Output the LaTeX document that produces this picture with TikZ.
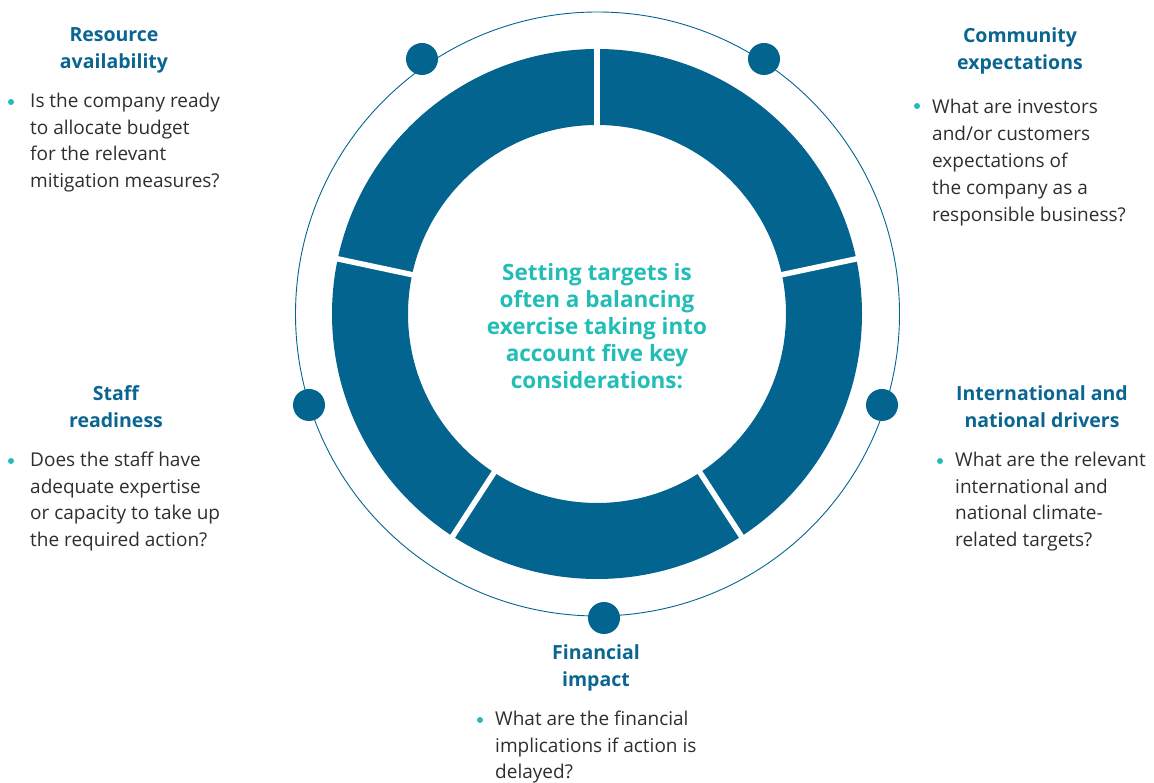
\documentclass[tikz,border=0pt]{standalone}
\usepackage{fontspec}
\setmainfont{Open Sans}
\definecolor{ringblue}{HTML}{03658F}
\definecolor{headblue}{HTML}{0A6690}
\definecolor{accentteal}{HTML}{22BDB6}
\definecolor{bodygrey}{HTML}{2E2E2E}
\tikzset{
	heading/.style={
		font=\fontsize{19.5}{27}\selectfont\bfseries,
		text=headblue, align=center, inner sep=0pt
	},
	question/.style={
		font=\fontsize{19}{26.5}\selectfont,
		text=bodygrey, align=left, anchor=north west, inner sep=0pt
	},
	bullet/.style={
		circle, fill=accentteal, minimum size=6pt, inner sep=0pt
	},
	ringdot/.style={
		circle, fill=ringblue, minimum size=32pt, inner sep=0pt
	},
	centretext/.style={
		font=\fontsize{22.5}{27}\selectfont\bfseries,
		text=accentteal, align=center, inner sep=0pt
	}
}

\begin{document}
\begin{tikzpicture}[x=1pt,y=1pt]
	\useasboundingbox (0,0) rectangle (1154,782);

	% ring of five segments
	\fill[ringblue,even odd rule]
		(597,468) circle[radius=265]
		(597,468) circle[radius=189];
	\foreach \a in {12,90,168,237,303}
		\draw[white,line width=5.5pt,shift={(597,468)}] (\a:185) -- (\a:270);

	% thin outer circle and its dots
	\draw[ringblue,line width=0.9pt] (597.5,468) circle[radius=302];
	\path
		node[ringdot] (dot-res)   at (422,723) {}
		node[ringdot] (dot-comm)  at (764,723) {}
		node[ringdot] (dot-staff) at (309,377) {}
		node[ringdot] (dot-intl)  at (882,377) {}
		node[ringdot] (dot-fin)   at (604,164) {}
	;

	\node[centretext] (core) at (597,456)
		{Setting targets is\\often a balancing\\exercise taking into\\account five key\\considerations:};

	% resource availability
	\path
		node[heading]  (res-head) at (114,731.5) {Resource\\availability}
		node[bullet]   (res-bul)  at (11,680) {}
		node[question] (res-text) at (30,689)
			{Is the company ready\\to allocate budget\\for the relevant\\mitigation measures?}
	;

	% community expectations
	\path
		node[heading]  (comm-head) at (1020,731.5) {Community\\expectations}
		node[bullet]   (comm-bul)  at (917,676) {}
		node[question,font=\fontsize{19}{27}\selectfont] (comm-text) at (932,683)
			{What are investors\\and/or customers\\expectations of\\the company as a\\responsible business?}
	;

	% staff readiness
	\path
		node[heading]  (staff-head) at (116,375.5) {Staff\\readiness}
		node[bullet]   (staff-bul)  at (11,321) {}
		node[question] (staff-text) at (30,330)
			{Does the staff have\\adequate expertise\\or capacity to take up\\the required action?}
	;

	% international and national drivers
	\path
		node[heading]  (intl-head) at (1042,375.5) {International and\\national drivers}
		node[bullet]   (intl-bul)  at (940,321) {}
		node[question] (intl-text) at (955,330)
			{What are the relevant\\international and\\national climate-\\related targets?}
	;

	% financial impact
	\path
		node[heading]  (fin-head) at (596,114.5) {Financial\\impact}
		node[bullet]   (fin-bul)  at (480,62) {}
		node[question] (fin-text) at (495,71)
			{What are the financial\\implications if action is\\delayed?}
	;
\end{tikzpicture}
\end{document}
